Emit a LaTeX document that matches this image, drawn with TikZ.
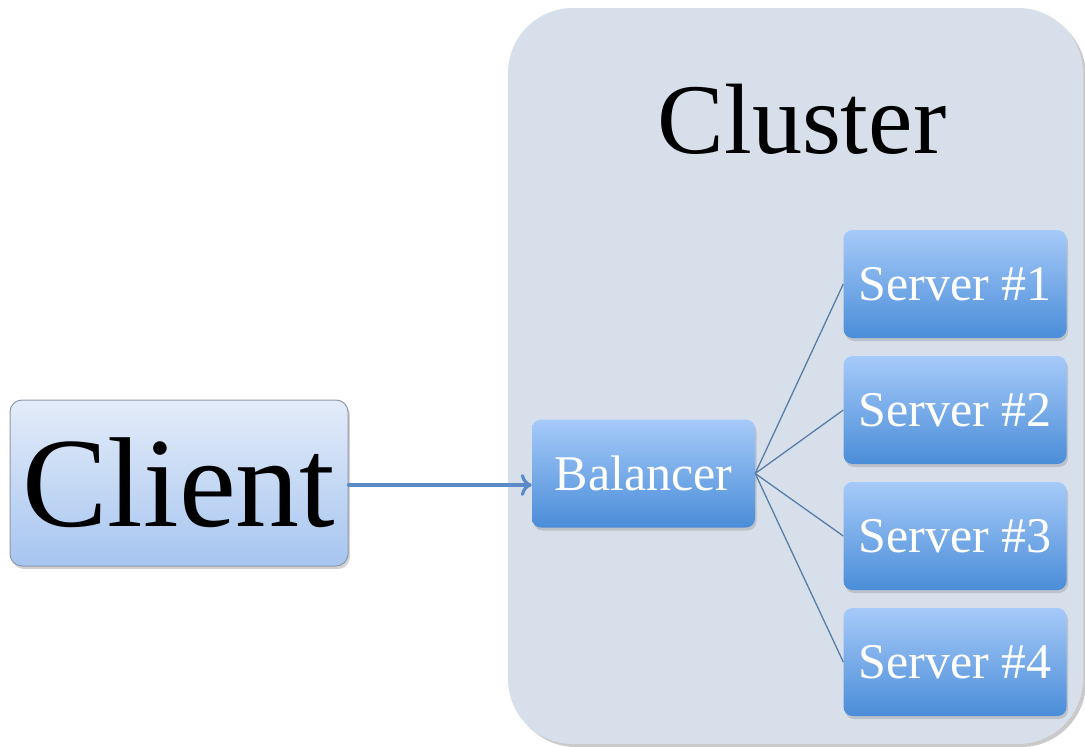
\documentclass[tikz,border=0pt]{standalone}
\usepackage{fontspec}
\setmainfont{Liberation Serif}
\usetikzlibrary{arrows.meta,shadows}
\definecolor{clusterfill}{HTML}{D7DFEB}
\definecolor{clientTop}{HTML}{E4ECF9}
\definecolor{clientBot}{HTML}{A6C5F0}
\definecolor{clientEdge}{HTML}{8E9AAB}
\definecolor{boxTop}{HTML}{A6CAF9}
\definecolor{boxBot}{HTML}{4A8DD8}
\definecolor{linkblue}{HTML}{5A7DA6}
\definecolor{arrowblue}{HTML}{5B8BC6}
\tikzset{
  clientbox/.style={draw=clientEdge, line width=1pt, rounded corners=12pt,
    top color=clientTop, bottom color=clientBot,
    minimum width=338pt, minimum height=166pt, inner sep=0pt,
    drop shadow={shadow xshift=2pt, shadow yshift=-3pt, opacity=0.35},
    font=\fontsize{128}{130}\selectfont},
  bluebox/.style={rounded corners=9pt, top color=boxTop, bottom color=boxBot,
    minimum width=223pt, minimum height=108pt, inner sep=0pt, text=white,
    drop shadow={shadow xshift=1.5pt, shadow yshift=-3pt, opacity=0.3},
    font=\fontsize{50}{52}\selectfont},
  link/.style={draw=linkblue, line width=1.3pt},
  feed/.style={draw=arrowblue, line width=3.2pt, line cap=round,
    -{To[length=11pt,width=22pt,line width=3.2pt]}}
}
\begin{document}
\begin{tikzpicture}[x=1pt,y=-1pt]
\useasboundingbox (0,0) rectangle (1085,747);
% cluster background panel
\fill[gray!70, opacity=0.6, rounded corners=65pt] (511,11) rectangle (1086,747);
\fill[clusterfill, rounded corners=65pt] (508,8) rectangle (1083,744);
\node[font=\fontsize{100}{102}\selectfont, anchor=base] (title) at (802,153) {Cluster};
% client
\node[clientbox] (client) at (179,483) {\raisebox{-0.1em}{Client}};
% balancer and servers
\node[bluebox] (bal) at (643.5,473.5) {Balancer};
\node[bluebox] (s1) at (955,284) {Server \#1};
\node[bluebox] (s2) at (955,410) {Server \#2};
\node[bluebox] (s3) at (955,536) {Server \#3};
\node[bluebox] (s4) at (955,662) {Server \#4};
% connectors
\draw[feed] (client.east |- 0,485) -- (bal.west |- 0,485);
\foreach \s in {s1,s2,s3,s4}
  \draw[link] (bal.east) -- (\s.west);
\end{tikzpicture}
\end{document}
